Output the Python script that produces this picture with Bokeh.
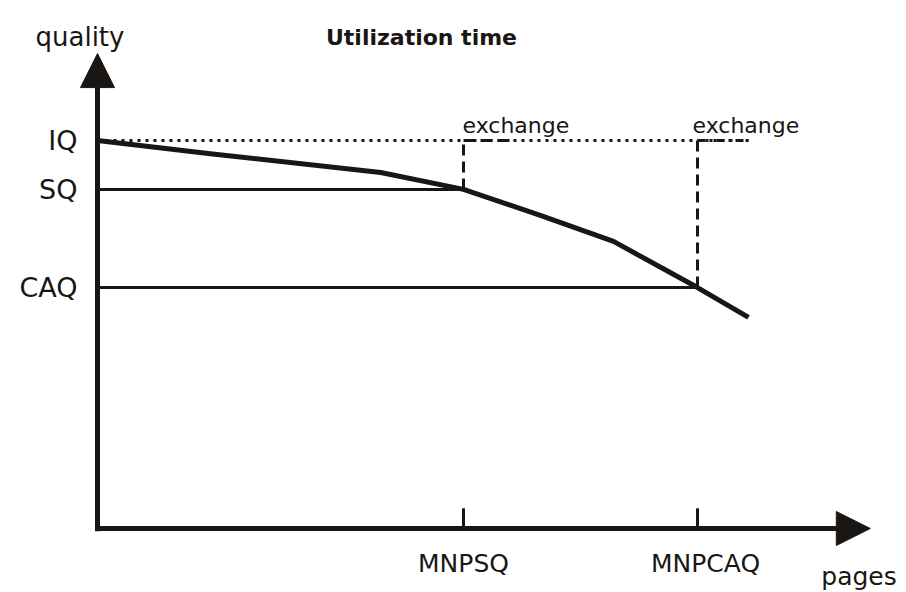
from bokeh.plotting import figure
from bokeh.models import Range1d, Arrow, NormalHead, ColumnDataSource
from bokeh.core.properties import value
from bokeh.embed import file_html
from bokeh.resources import INLINE

# ---- data (schematic units: pages, quality) ----
levels = ["IQ", "SQ", "CAQ"]
level_quality = [100, 87.4, 62.1]
marks = ["MNPSQ", "MNPCAQ"]
mark_pages = [61, 100]
curve_pages = [0, 18.8, 47.2, 61, 73.8, 86, 100, 108.5]
curve_quality = [100, 96.6, 91.75, 87.4, 80.7, 74, 62.1, 54.4]
exchange_labels = ["exchange", "exchange"]
x_axis_end = 128.8
y_axis_end = 122.4
title_text = "Utilization time"
x_label = "pages"
y_label = "quality"

FONT = "DejaVu Sans"
BLACK = "#1a1614"

p = figure(width=906, height=592, output_backend="svg", toolbar_location=None,
           x_range=Range1d(-97 / 6, 809 / 6), y_range=Range1d(-64 / 3.88, 528 / 3.88),
           min_border=0, x_axis_location=None, y_axis_location=None)
p.xgrid.visible = False
p.ygrid.visible = False
p.outline_line_color = None
p.background_fill_color = "white"
p.border_fill_color = "white"

iq, sq, caq = level_quality
m1, m2 = mark_pages
curve_end = curve_pages[-1]

# dotted IQ line
p.line([0, curve_end], [iq, iq], line_color=BLACK, line_width=3, line_dash="3 5")
# dashed fragments on IQ line after exchange
p.line([m1, m1 + 8.7], [iq, iq], line_color=BLACK, line_width=3, line_dash="12 5")
p.line([m2, curve_end], [iq, iq], line_color=BLACK, line_width=3, line_dash="8 4 3 4")
# solid SQ / CAQ lines
p.line([0, m1], [sq, sq], line_color=BLACK, line_width=3)
p.line([0, m2], [caq, caq], line_color=BLACK, line_width=3)
# dashed verticals
p.line([m1, m1], [sq, iq], line_color=BLACK, line_width=3, line_dash="11 6")
p.line([m2, m2], [caq, iq], line_color=BLACK, line_width=3, line_dash="11 6")
# ticks on x axis
p.multi_line([[m1, m1], [m2, m2]], [[0, 5.2], [0, 5.2]], line_color=BLACK, line_width=3)

# quality curve
p.line(curve_pages, curve_quality, line_color=BLACK, line_width=5, line_join="round")

# axes with arrows
p.add_layout(Arrow(end=NormalHead(size=34, fill_color=BLACK, line_color=BLACK, line_width=1),
                   x_start=0, y_start=-0.7, x_end=0, y_end=y_axis_end,
                   line_color=BLACK, line_width=5))
p.add_layout(Arrow(end=NormalHead(size=34, fill_color=BLACK, line_color=BLACK, line_width=1),
                   x_start=-0.4, y_start=0, x_end=x_axis_end, y_end=0,
                   line_color=BLACK, line_width=5))

# level labels
lv = ColumnDataSource(dict(x=[0] * len(levels), y=level_quality, t=levels))
p.text(x="x", y="y", text="t", source=lv, x_offset=-20, text_align="right",
       text_baseline="middle", text_font=value(FONT), text_font_size="27px", text_color=BLACK)

# x marks
mk = ColumnDataSource(dict(x=mark_pages, y=[0] * len(marks), t=marks, xo=[0, 8]))
p.text(x="x", y="y", text="t", source=mk, x_offset="xo", y_offset=35, text_align="center",
       text_baseline="alphabetic", text_font=value(FONT), text_font_size="25px", text_color=BLACK)

# exchange labels
ex = ColumnDataSource(dict(x=mark_pages, y=[iq] * len(mark_pages), t=exchange_labels, xo=[-1, -5]))
p.text(x="x", y="y", text="t", source=ex, x_offset="xo", y_offset=-15, text_align="left",
       text_baseline="alphabetic", text_font=value(FONT), text_font_size="22px", text_color=BLACK)

# axis labels and title
p.text(x=[0], y=[y_axis_end], text=[y_label], x_offset=-62, y_offset=-17, text_align="left",
       text_baseline="alphabetic", text_font=value(FONT), text_font_size="26px", text_color=BLACK)
p.text(x=[x_axis_end], y=[0], text=[x_label], x_offset=-49, y_offset=48, text_align="left",
       text_baseline="alphabetic", text_font=value(FONT), text_font_size="25px", text_color=BLACK)
p.text(x=[54], y=[y_axis_end], text=[title_text], y_offset=-16, text_align="center",
       text_baseline="alphabetic", text_font=value(FONT), text_font_size="22px",
       text_font_style="bold", text_color=BLACK)

open("out.html", "w").write(file_html(p, INLINE))
